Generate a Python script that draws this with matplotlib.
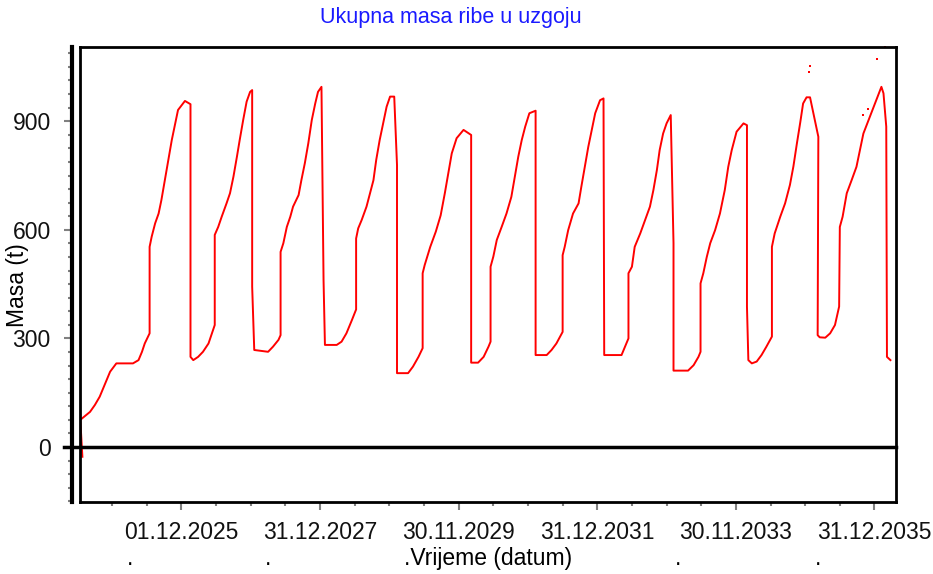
import matplotlib
matplotlib.use('Agg')
import matplotlib.pyplot as plt
import matplotlib.transforms as mtransforms
from matplotlib.ticker import MultipleLocator, FixedLocator

plt.rcParams['font.family'] = ['Liberation Sans', 'DejaVu Sans']

# vrijeme (decimalna godina) i ukupna masa ribe (t)
godina = [2024.49, 2024.46, 2024.60, 2024.67, 2024.74, 2024.84, 2024.89, 2024.98, 2025.22, 2025.30,
          2025.35, 2025.39, 2025.46, 2025.46, 2025.49, 2025.54, 2025.59, 2025.63, 2025.68, 2025.73,
          2025.78, 2025.83, 2025.87, 2025.97, 2026.05, 2026.05, 2026.09, 2026.16, 2026.23, 2026.31,
          2026.36, 2026.40, 2026.40, 2026.45, 2026.50, 2026.57, 2026.62, 2026.67, 2026.72, 2026.76,
          2026.81, 2026.86, 2026.91, 2026.94, 2026.94, 2026.97, 2027.17, 2027.24, 2027.32, 2027.35,
          2027.35, 2027.39, 2027.44, 2027.49, 2027.53, 2027.61, 2027.65, 2027.70, 2027.75, 2027.80,
          2027.85, 2027.89, 2027.94, 2027.97, 2027.99, 2028.16, 2028.23, 2028.30, 2028.38, 2028.44,
          2028.44, 2028.47, 2028.52, 2028.59, 2028.64, 2028.69, 2028.73, 2028.78, 2028.83, 2028.88,
          2028.93, 2028.99, 2029.03, 2029.03, 2029.19, 2029.26, 2029.34, 2029.40, 2029.40, 2029.43,
          2029.51, 2029.59, 2029.66, 2029.72, 2029.77, 2029.82, 2029.89, 2029.99, 2030.10, 2030.10,
          2030.20, 2030.28, 2030.35, 2030.38, 2030.38, 2030.42, 2030.47, 2030.54, 2030.61, 2030.68,
          2030.73, 2030.78, 2030.83, 2030.88, 2030.94, 2031.03, 2031.03, 2031.19, 2031.26, 2031.33,
          2031.42, 2031.42, 2031.45, 2031.50, 2031.57, 2031.65, 2031.69, 2031.74, 2031.79, 2031.84,
          2031.89, 2031.96, 2032.01, 2032.02, 2032.27, 2032.32, 2032.37, 2032.37, 2032.42, 2032.46,
          2032.54, 2032.61, 2032.68, 2032.73, 2032.78, 2032.82, 2032.87, 2032.92, 2032.98, 2033.02,
          2033.02, 2033.23, 2033.31, 2033.38, 2033.41, 2033.41, 2033.45, 2033.50, 2033.55, 2033.62,
          2033.69, 2033.76, 2033.81, 2033.86, 2033.93, 2034.03, 2034.08, 2034.08, 2034.10, 2034.15,
          2034.22, 2034.29, 2034.36, 2034.44, 2034.44, 2034.48, 2034.56, 2034.63, 2034.70, 2034.75,
          2034.80, 2034.85, 2034.89, 2034.94, 2034.99, 2035.11, 2035.10, 2035.13, 2035.21, 2035.28,
          2035.35, 2035.41, 2035.42, 2035.46, 2035.52, 2035.59, 2035.66, 2035.71, 2035.76, 2036.02,
          2036.05, 2036.09, 2036.10, 2036.15]
masa = [-27, 75, 97, 116, 139, 185, 208, 231, 231, 240,
        263, 286, 314, 553, 581, 618, 645, 682, 737, 793,
        848, 894, 931, 956, 947, 249, 240, 249, 263, 286,
        314, 337, 586, 608, 636, 673, 701, 747, 802, 848,
        903, 954, 981, 986, 443, 268, 263, 277, 296, 309,
        539, 563, 608, 636, 664, 696, 737, 784, 839, 903,
        949, 981, 995, 461, 282, 282, 291, 314, 351, 380,
        576, 604, 627, 664, 701, 737, 793, 848, 894, 940,
        968, 968, 779, 204, 204, 222, 249, 273, 480, 503,
        553, 595, 640, 701, 756, 811, 853, 876, 862, 233,
        233, 249, 277, 291, 498, 526, 572, 608, 645, 691,
        747, 802, 848, 885, 922, 929, 254, 254, 268, 286,
        318, 530, 553, 599, 645, 673, 719, 774, 829, 876,
        922, 958, 963, 254, 254, 277, 300, 480, 498, 553,
        590, 627, 664, 710, 765, 820, 866, 894, 917, 563,
        211, 211, 226, 249, 263, 452, 480, 525, 563, 599,
        645, 710, 774, 820, 871, 894, 889, 388, 240, 231,
        236, 254, 277, 305, 553, 590, 636, 673, 724, 775,
        838, 898, 949, 966, 966, 857, 309, 303, 302, 314,
        337, 388, 608, 636, 701, 737, 774, 820, 866, 995,
        977, 885, 249, 240]

# pojedinacne tocke izvan krivulje
izdvojeno_godina = [2034.99, 2034.98, 2035.82, 2035.76, 2035.96, 2036.07]
izdvojeno_masa = [1052, 1035, 935, 917, 1071, 1104]

tick_pos = [2025.92, 2027.92, 2029.92, 2031.92, 2033.92, 2035.92]
tick_lab = ['01.12.2025', '31.12.2027', '30.11.2029', '31.12.2031', '30.11.2033', '31.12.2035']
tocke_pos = [2025.18, 2027.17, 2033.08, 2035.10]

fig = plt.figure(figsize=(9.33, 5.74), dpi=100)
ax = fig.add_axes([0.0857, 0.1254, 0.8746, 0.7927])

ax.plot(godina, masa, color='red', lw=1.4)
ax.scatter(izdvojeno_godina, izdvojeno_masa, color='red', s=4, marker='s', lw=0, clip_on=False)

ax.axhline(0, xmin=-0.02, xmax=1, color='black', lw=2.5, clip_on=False)

ax.set_xlim(2024.455, 2036.23)
ax.set_ylim(-152, 1105)

ax.xaxis.set_major_locator(FixedLocator(tick_pos))
ax.set_xticklabels(tick_lab)
ax.xaxis.set_minor_locator(FixedLocator([tick_pos[0] - 1.5 + 0.5 * i for i in range(25)]))
ax.yaxis.set_major_locator(MultipleLocator(300))
ax.yaxis.set_minor_locator(MultipleLocator(37.5))

ax.tick_params(which='major', direction='out', length=6, width=1.5, color='gray', labelsize=16.5,
               labelcolor='#111111')
ax.tick_params(which='minor', direction='out', length=3, width=1.5, color='gray')
ax.tick_params(axis='x', which='major', pad=8)
ax.tick_params(axis='y', which='major', pad=9)

for s in ['top', 'right', 'bottom']:
    ax.spines[s].set_linewidth(2)
ax.spines['left'].set_position(('outward', 6))
ax.spines['left'].set_linewidth(3)
ax.axvline(2024.455, color='black', lw=2, clip_on=False)

ax.set_xlabel('.Vrijeme (datum)', fontsize=16.5, labelpad=2)
ax.set_ylabel('Masa (t)', fontsize=16.5)
ax.yaxis.set_label_coords(-0.062, 0.477)

tr = mtransforms.blended_transform_factory(ax.transData, fig.transFigure)
for p in tocke_pos:
    ax.text(p, 0.016, '.', transform=tr, ha='center', va='baseline', fontsize=16.5)

fig.text(0.4834, 0.970, 'Ukupna masa ribe u uzgoju', ha='center', va='center',
         color='#1a1aff', fontsize=15.5)

fig.savefig('out.png', dpi=100)
